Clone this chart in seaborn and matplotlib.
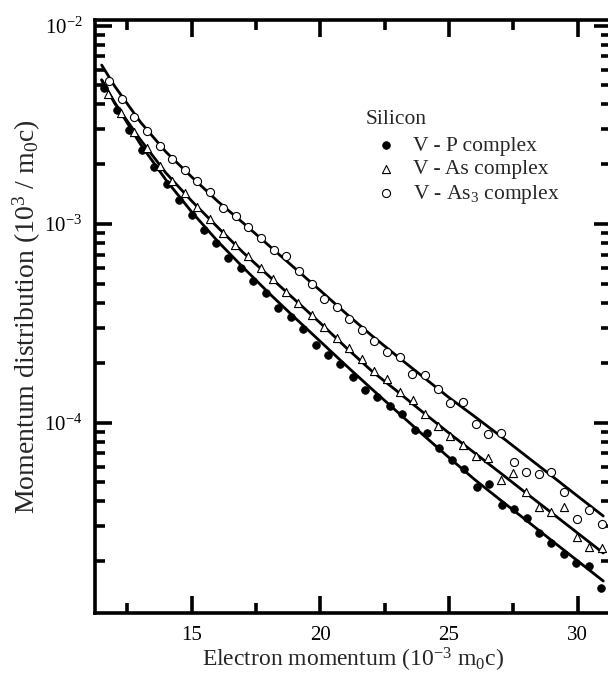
import numpy as np
import pandas as pd
import matplotlib
matplotlib.use("Agg")
import matplotlib.pyplot as plt
import seaborn as sns
from matplotlib.ticker import FixedLocator, LogLocator, LogFormatterMathtext, NullFormatter

# ---------------- data ----------------
vp_x = [11.60, 12.11, 12.57, 13.06, 13.55, 14.03, 14.51, 15.00, 15.48, 15.94,
        16.42, 16.92, 17.39, 17.88, 18.37, 18.85, 19.34, 19.82, 20.29, 20.76,
        21.26, 21.74, 22.21, 22.71, 23.19, 23.68, 24.16, 24.62, 25.12, 25.59,
        26.08, 26.57, 27.05, 27.54, 28.02, 28.50, 28.98, 29.47, 29.95, 30.43, 30.91]
vp_y = [4.83e-3, 3.75e-3, 2.98e-3, 2.36e-3, 1.93e-3, 1.59e-3, 1.32e-3, 1.106e-3, 9.33e-4, 8.05e-4,
        6.76e-4, 6.02e-4, 5.18e-4, 4.48e-4, 3.79e-4, 3.41e-4, 2.96e-4, 2.45e-4, 2.19e-4, 1.98e-4,
        1.69e-4, 1.46e-4, 1.35e-4, 1.215e-4, 1.10e-4, 9.17e-5, 8.82e-5, 7.46e-5, 6.47e-5, 5.85e-5,
        4.71e-5, 4.90e-5, 3.84e-5, 3.65e-5, 3.31e-5, 2.77e-5, 2.48e-5, 2.18e-5, 1.97e-5, 1.90e-5, 1.46e-5]

vas_x = [11.76, 12.25, 12.76, 13.25, 13.77, 14.25, 14.74, 15.22, 15.71, 16.20,
         16.68, 17.18, 17.68, 18.17, 18.66, 19.14, 19.66, 20.14, 20.65, 21.13,
         21.61, 22.10, 22.59, 23.10, 23.59, 24.07, 24.56, 25.05, 25.53, 26.04,
         26.53, 27.02, 27.50, 27.99, 28.49, 28.98, 29.47, 29.96, 30.45, 30.95]
vas_y = [4.50e-3, 3.61e-3, 2.92e-3, 2.41e-3, 1.96e-3, 1.65e-3, 1.43e-3, 1.22e-3, 1.056e-3, 9.04e-4,
         7.84e-4, 6.90e-4, 5.98e-4, 5.27e-4, 4.56e-4, 4.01e-4, 3.48e-4, 3.04e-4, 2.66e-4, 2.36e-4,
         2.09e-4, 1.82e-4, 1.66e-4, 1.42e-4, 1.30e-4, 1.11e-4, 9.60e-5, 8.58e-5, 7.70e-5, 6.80e-5,
         6.65e-5, 5.13e-5, 5.55e-5, 4.45e-5, 3.77e-5, 3.55e-5, 3.77e-5, 2.64e-5, 2.37e-5, 2.32e-5]

vas3_x = [11.79, 12.28, 12.77, 13.25, 13.77, 14.25, 14.74, 15.22, 15.71, 16.20,
          16.72, 17.20, 17.69, 18.19, 18.65, 19.17, 19.66, 20.14, 20.65, 21.13,
          21.61, 22.10, 22.59, 23.08, 23.57, 24.07, 24.56, 25.05, 25.53, 26.04,
          26.53, 27.02, 27.51, 27.99, 28.49, 28.98, 29.47, 29.96, 30.45, 30.95]
vas3_y = [5.27e-3, 4.26e-3, 3.47e-3, 2.95e-3, 2.47e-3, 2.12e-3, 1.87e-3, 1.646e-3, 1.45e-3, 1.21e-3,
          1.10e-3, 9.69e-4, 8.47e-4, 7.40e-4, 6.90e-4, 5.82e-4, 4.97e-4, 4.17e-4, 3.83e-4, 3.32e-4,
          2.93e-4, 2.57e-4, 2.27e-4, 2.15e-4, 1.75e-4, 1.74e-4, 1.48e-4, 1.25e-4, 1.264e-4, 9.79e-5,
          8.75e-5, 8.88e-5, 6.32e-5, 5.61e-5, 5.49e-5, 5.66e-5, 4.45e-5, 3.25e-5, 3.62e-5, 3.08e-5]

fit_x = [11.5, 12, 13, 14, 15, 16, 17, 18, 19, 20, 21, 22, 23, 24, 25, 26, 27, 28, 29, 30, 31]
fit_vas3 = [6.32e-3, 4.96e-3, 3.27e-3, 2.306e-3, 1.725e-3, 1.305e-3, 1.012e-3, 7.79e-4, 6.00e-4, 4.62e-4,
            3.54e-4, 2.74e-4, 2.15e-4, 1.695e-4, 1.336e-4, 1.072e-4, 8.55e-5, 6.78e-5, 5.38e-5, 4.26e-5, 3.38e-5]
fit_vas = [5.33e-3, 4.07e-3, 2.665e-3, 1.806e-3, 1.305e-3, 9.66e-4, 7.18e-4, 5.47e-4, 4.165e-4, 3.17e-4,
           2.386e-4, 1.817e-4, 1.433e-4, 1.123e-4, 8.85e-5, 7.02e-5, 5.57e-5, 4.41e-5, 3.50e-5, 2.775e-5, 2.20e-5]
fit_vp = [5.30e-3, 4.10e-3, 2.53e-3, 1.666e-3, 1.150e-3, 8.21e-4, 6.04e-4, 4.49e-4, 3.38e-4, 2.56e-4,
          1.937e-4, 1.475e-4, 1.129e-4, 8.65e-5, 6.66e-5, 5.16e-5, 4.07e-5, 3.22e-5, 2.54e-5, 2.01e-5, 1.59e-5]

labels = ["V - P complex", "V - As complex", "V - As$_3$ complex"]
legend_title = "Silicon"
x_major = [15, 20, 25, 30]
x_minor = [12.5, 17.5, 22.5, 27.5]

# ---------------- style ----------------
sns.set_theme(style="ticks")
plt.rcParams["font.family"] = ["Liberation Serif", "DejaVu Serif"]
plt.rcParams["mathtext.fontset"] = "custom"
plt.rcParams["mathtext.rm"] = "Liberation Serif"
plt.rcParams["mathtext.it"] = "Liberation Serif:italic"
plt.rcParams["mathtext.bf"] = "Liberation Serif:bold"

W, H = 608, 677
fig = plt.figure(figsize=(W / 100, H / 100), dpi=100)
fig.patch.set_facecolor("white")
L, R, T, B = 95, 611, 20, 613
ax = fig.add_axes([L / W, 1 - B / H, (R - L) / W, (B - T) / H])
ax.set_facecolor("white")
ax.set_yscale("log")

lw_fit = 2.0
sns.lineplot(x=fit_x, y=fit_vas3, ax=ax, color="black", lw=lw_fit, sort=False)
sns.lineplot(x=fit_x, y=fit_vas, ax=ax, color="black", lw=lw_fit, sort=False)
sns.lineplot(x=fit_x, y=fit_vp, ax=ax, color="black", lw=lw_fit, sort=False)

sns.scatterplot(x=vp_x, y=vp_y, ax=ax, marker="o", s=30, color="black",
                edgecolor="black", linewidth=0.6, label=labels[0], zorder=3)
sns.scatterplot(x=vas_x, y=vas_y, ax=ax, marker="^", s=34, color="white",
                edgecolor="black", linewidth=0.8, label=labels[1], zorder=3)
sns.scatterplot(x=vas3_x, y=vas3_y, ax=ax, marker="o", s=34, color="white",
                edgecolor="black", linewidth=0.8, label=labels[2], zorder=3)

ax.set_xlim(11.24, 31.30)
ax.set_ylim(1.0973e-5, 1.0659e-2)

ax.xaxis.set_major_locator(FixedLocator(x_major))
ax.xaxis.set_minor_locator(FixedLocator(x_minor))
ax.yaxis.set_major_locator(LogLocator(base=10, numticks=10))
ax.yaxis.set_minor_locator(LogLocator(base=10, subs=np.arange(2, 10), numticks=20))
ax.yaxis.set_major_formatter(LogFormatterMathtext())
ax.yaxis.set_minor_formatter(NullFormatter())

for s in ax.spines.values():
    s.set_linewidth(2.6)
    s.set_color("black")
    s.set_visible(True)

ax.tick_params(which="both", direction="in", top=True, right=True, color="black",
               labelcolor="black", width=2.6)
ax.tick_params(which="major", length=12, pad=9, labelsize=15)
ax.tick_params(which="minor", length=7)

ax.set_xlabel("Electron momentum (10$^{-3}$ m$_0$c)", fontsize=17, labelpad=1)
ax.set_ylabel("Momentum distribution (10$^3$ / m$_0$c)", fontsize=20, labelpad=1)

leg = ax.legend(title=legend_title, loc="upper left",
                bbox_to_anchor=(366 / W, 1 - 110 / H), bbox_transform=fig.transFigure,
                frameon=False, fontsize=15.5, title_fontsize=15.5, alignment="left",
                borderpad=0, borderaxespad=0, handlelength=1.9, handletextpad=0.3,
                labelspacing=0.17, markerscale=1.0)
leg._legend_box.sep = 4.8

fig.savefig("out.png", dpi=100, facecolor="white")
